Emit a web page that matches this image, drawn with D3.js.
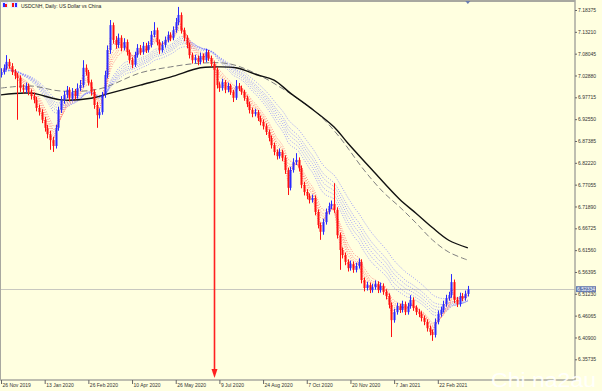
<!DOCTYPE html>
<html><head><meta charset="utf-8">
<script src="https://cdn.jsdelivr.net/npm/d3@7"></script>
<style>html,body{margin:0;padding:0;background:#FFFFE0;overflow:hidden}</style>
</head><body><svg id="c" width="602" height="391"></svg>
<script>
// ---------------- data ----------------
const opens = [
7.030,7.037,7.047,7.061,7.051,7.037,7.028,7.023,6.999,6.995,
7.004,6.990,6.980,6.971,6.952,6.942,6.924,6.905,6.890,6.876,
6.862,6.905,6.947,6.971,6.983,6.995,6.976,6.990,6.980,6.999,
7.006,7.047,7.037,7.013,6.990,6.959,6.935,6.942,6.983,7.030,
7.089,7.148,7.113,7.101,7.118,7.094,7.108,7.084,7.065,7.054,
7.077,7.094,7.084,7.099,7.089,7.101,7.125,7.136,7.108,7.089,
7.101,7.113,7.125,7.118,7.136,7.155,7.172,7.136,7.118,7.101,
7.077,7.065,7.070,7.061,7.075,7.065,7.084,7.070,7.056,7.042,
7.006,6.999,7.013,6.995,7.004,6.990,6.976,7.004,6.999,6.990,
6.976,6.961,6.947,6.938,6.942,6.928,6.919,6.909,6.895,6.881,
6.864,6.848,6.838,6.848,6.834,6.805,6.763,6.805,6.824,6.829,
6.810,6.770,6.753,6.744,6.734,6.739,6.706,6.675,6.659,6.682,
6.706,6.720,6.725,6.711,6.651,6.616,6.604,6.588,6.573,6.583,
6.569,6.578,6.588,6.545,6.526,6.533,6.521,6.528,6.536,6.521,
6.531,6.517,6.507,6.486,6.450,6.469,6.483,6.474,6.488,6.469,
6.483,6.498,6.479,6.469,6.465,6.455,6.446,6.431,6.422,6.415,
6.446,6.465,6.474,6.488,6.502,6.509,6.540,6.498,6.488,6.507,
6.502,6.512];
const closes = [
7.037,7.047,7.061,7.051,7.037,7.028,7.023,6.999,6.995,7.004,
6.990,6.980,6.971,6.952,6.942,6.924,6.905,6.890,6.876,6.862,
6.905,6.947,6.971,6.983,6.995,6.976,6.990,6.980,6.999,7.006,
7.047,7.037,7.013,6.990,6.959,6.935,6.942,6.983,7.030,7.089,
7.148,7.113,7.101,7.118,7.094,7.108,7.084,7.065,7.054,7.077,
7.094,7.084,7.099,7.089,7.101,7.125,7.136,7.108,7.089,7.101,
7.113,7.125,7.118,7.136,7.155,7.172,7.136,7.118,7.101,7.077,
7.065,7.070,7.061,7.075,7.065,7.084,7.070,7.056,7.042,7.006,
6.999,7.013,6.995,7.004,6.990,6.976,7.004,6.999,6.990,6.976,
6.961,6.947,6.938,6.942,6.928,6.919,6.909,6.895,6.881,6.864,
6.848,6.838,6.848,6.834,6.805,6.763,6.805,6.824,6.829,6.810,
6.770,6.753,6.744,6.734,6.739,6.706,6.675,6.659,6.682,6.706,
6.720,6.725,6.711,6.651,6.616,6.604,6.588,6.573,6.583,6.569,
6.578,6.588,6.545,6.526,6.533,6.521,6.528,6.536,6.521,6.531,
6.517,6.507,6.486,6.450,6.469,6.483,6.474,6.488,6.469,6.483,
6.498,6.479,6.469,6.465,6.455,6.446,6.431,6.422,6.415,6.446,
6.465,6.474,6.488,6.502,6.509,6.540,6.498,6.488,6.507,6.502,
6.512,6.523];
const highs = [
7.046,7.055,7.077,7.068,7.058,7.044,7.035,7.029,7.008,7.012,
7.010,6.996,6.988,6.978,6.960,6.949,6.931,6.912,6.898,6.884,
6.912,6.955,6.980,6.992,7.004,7.001,6.999,6.997,7.010,7.018,
7.065,7.055,7.042,7.019,6.996,6.966,6.951,6.990,7.040,7.100,
7.160,7.154,7.122,7.128,7.124,7.117,7.114,7.090,7.072,7.085,
7.103,7.101,7.108,7.106,7.110,7.134,7.155,7.142,7.114,7.110,
7.121,7.133,7.131,7.145,7.165,7.191,7.178,7.142,7.124,7.107,
7.083,7.078,7.076,7.083,7.081,7.092,7.089,7.076,7.062,7.048,
7.013,7.021,7.018,7.012,7.009,6.995,7.018,7.011,7.005,6.995,
6.981,6.967,6.953,6.950,6.947,6.934,6.925,6.915,6.901,6.887,
6.870,6.854,6.856,6.853,6.840,6.811,6.813,6.833,6.845,6.835,
6.816,6.777,6.760,6.750,6.747,6.745,6.712,6.681,6.690,6.714,
6.728,6.733,6.774,6.717,6.657,6.622,6.610,6.594,6.591,6.589,
6.586,6.596,6.594,6.551,6.541,6.539,6.536,6.544,6.542,6.539,
6.537,6.523,6.513,6.492,6.477,6.491,6.489,6.496,6.494,6.491,
6.509,6.504,6.485,6.476,6.471,6.461,6.452,6.437,6.428,6.454,
6.473,6.482,6.496,6.510,6.517,6.559,6.546,6.505,6.515,6.514,
6.520,6.531];
const lows = [
7.024,7.031,7.042,7.045,7.030,7.020,6.924,6.990,6.986,6.988,
6.982,6.972,6.963,6.944,6.934,6.916,6.896,6.880,6.853,6.848,
6.856,6.898,6.940,6.962,6.975,6.968,6.969,6.972,6.974,6.992,
7.000,7.029,7.005,6.981,6.950,6.905,6.927,6.936,6.976,7.022,
7.080,7.104,7.092,7.094,7.086,7.088,7.076,7.057,7.046,7.049,
7.071,7.077,7.078,7.082,7.083,7.095,7.119,7.100,7.080,7.083,
7.095,7.107,7.110,7.112,7.130,7.148,7.128,7.110,7.093,7.069,
7.057,7.058,7.053,7.055,7.058,7.060,7.063,7.049,7.035,6.998,
6.990,6.993,6.987,6.989,6.983,6.966,6.971,6.992,6.983,6.969,
6.954,6.939,6.930,6.932,6.921,6.911,6.901,6.888,6.873,6.856,
6.840,6.830,6.832,6.826,6.796,6.746,6.757,6.799,6.817,6.802,
6.762,6.745,6.736,6.726,6.728,6.698,6.667,6.640,6.652,6.676,
6.700,6.713,6.704,6.643,6.569,6.596,6.580,6.565,6.567,6.562,
6.563,6.572,6.537,6.518,6.520,6.514,6.515,6.522,6.514,6.515,
6.510,6.499,6.478,6.410,6.444,6.463,6.467,6.468,6.462,6.463,
6.477,6.472,6.462,6.457,6.447,6.438,6.423,6.414,6.401,6.409,
6.440,6.458,6.468,6.482,6.496,6.503,6.490,6.481,6.482,6.495,
6.496,6.506];

const tickIdx = [0,16,32,48,64,80,96,112,128,144,160];
const tickLabels = ["26 Nov 2019","13 Jan 2020","26 Feb 2020","10 Apr 2020","26 May 2020",
  "9 Jul 2020","24 Aug 2020","7 Oct 2020","20 Nov 2020","7 Jan 2021","22 Feb 2021"];
const priceTicks = [7.18375,7.13210,7.08045,7.02880,6.97715,6.92550,6.87385,6.82220,6.77055,
  6.71890,6.66725,6.61560,6.56395,6.51230,6.46065,6.40900,6.35735];

// long moving averages (bar index, value)
const maIdx    = [0,11,22,33,40,51,62,73,78,86,94,100,106,113,122,127,136,146,152,158,164,171];
const maSolid  = [6.983,6.987,6.971,6.975,6.987,7.006,7.025,7.047,7.049,7.047,7.030,7.018,6.987,6.954,6.907,6.869,6.805,6.736,6.703,6.669,6.639,6.621];
const maDashIdx = [0,11,22,36,51,62,73,84,95,105,110,117,124,133,140,146,152,158,164,171];
const maDashed  = [6.999,7.004,6.992,6.997,7.035,7.049,7.058,7.056,7.028,6.990,6.968,6.933,6.883,6.805,6.753,6.718,6.680,6.640,6.611,6.592];

// Guppy ribbons (periods expressed in bars of this chart)
const shortPeriods = [2,3,4.5,5.5,6.5,8];
const longPeriods  = [15.5,18,20.5,23,25.5,30.5];

const lastPrice = 6.52334;
const arrowIdx = 78;
const arrowPrice = 7.052;
const title = "USDCNH, Daily:  US Dollar vs China";
const watermark = "Chi na2au";

// ---------------- drawing ----------------
const svg = d3.select("#c");
const W = 602, H = 391, plotR = 575, plotB = 380, plotT = 2;
const N = closes.length;
const x = d3.scaleLinear().domain([0, N - 1]).range([1, 1 + 2.73 * (N - 1)]);
const y = d3.scaleLinear().domain([6.35735, 7.18375]).range([359.3, 10]);

svg.append("rect").attr("width", W).attr("height", H).attr("fill", "#FFFFE0");

svg.append("defs").append("clipPath").attr("id", "plot")
  .append("rect").attr("x", 1).attr("y", plotT).attr("width", plotR - 1).attr("height", plotB - plotT);
const g = svg.append("g").attr("clip-path", "url(#plot)");

// last price line
g.append("line").attr("x1", 0).attr("x2", plotR).attr("y1", Math.round(y(lastPrice)) + 0.5).attr("y2", Math.round(y(lastPrice)) + 0.5)
  .attr("stroke", "#c8c8c0").attr("stroke-width", 1);

// EMA ribbons
function ema(vals, n) { const a = 2 / (n + 1); let e = vals[0]; return vals.map((v, i) => (e = i === 0 ? v : a * v + (1 - a) * e)); }
const lineGen = d3.line().x((d, i) => x(i)).y(d => y(d));
longPeriods.forEach(p => {
  g.append("path").attr("d", lineGen(ema(closes, p))).attr("fill", "none")
    .attr("stroke", "#7f7fff").attr("stroke-width", 1).attr("stroke-dasharray", "1,1.5").attr("opacity", 0.75);
});
shortPeriods.forEach(p => {
  g.append("path").attr("d", lineGen(ema(closes, p))).attr("fill", "none")
    .attr("stroke", "#ff6a6a").attr("stroke-width", 1).attr("stroke-dasharray", "1,1.5").attr("opacity", 0.75);
});

// long MAs
const maLine = d3.line().curve(d3.curveCatmullRom).x(d => x(d[0])).y(d => y(d[1]));
g.append("path").attr("d", maLine(maDashIdx.map((d, i) => [d, maDashed[i]]))).attr("fill", "none")
  .attr("stroke", "#808080").attr("stroke-width", 1).attr("stroke-dasharray", "6,3");
g.append("path").attr("d", maLine(maIdx.map((d, i) => [d, maSolid[i]]))).attr("fill", "none")
  .attr("stroke", "#111").attr("stroke-width", 1.4);

// candles
const up = "#2a2aff", dn = "#ff1010";
const candles = g.append("g");
closes.forEach((c, i) => {
  const o = opens[i], col = c >= o ? up : dn, cx = Math.round(x(i)) + 0.5;
  candles.append("line").attr("x1", cx).attr("x2", cx).attr("y1", y(highs[i])).attr("y2", y(lows[i]))
    .attr("stroke", col).attr("stroke-width", 1);
  const top = y(Math.max(o, c)), bot = y(Math.min(o, c));
  candles.append("rect").attr("x", cx - 1).attr("width", 2).attr("y", top).attr("height", Math.max(1, bot - top)).attr("fill", col);
});

// red arrow
const ax = Math.round(x(arrowIdx)) + 0.5;
svg.append("line").attr("x1", ax).attr("x2", ax).attr("y1", y(arrowPrice)).attr("y2", plotB - 9)
  .attr("stroke", "#ff2020").attr("stroke-width", 1.6);
svg.append("path").attr("d", `M${ax - 3},${plotB - 11} L${ax + 3},${plotB - 11} L${ax},${plotB - 2} Z`).attr("fill", "#ff2020");

// frame
svg.append("line").attr("x1", 0).attr("x2", plotR).attr("y1", 1).attr("y2", 1).attr("stroke", "#a8a8a0").attr("stroke-width", 2);
svg.append("line").attr("x1", 0.5).attr("x2", 0.5).attr("y1", 0).attr("y2", plotB).attr("stroke", "#a8a8a0").attr("stroke-width", 1);
svg.append("line").attr("x1", plotR).attr("x2", plotR).attr("y1", 0).attr("y2", plotB + 1).attr("stroke", "#a8a8a0").attr("stroke-width", 1.5);
svg.append("line").attr("x1", 0).attr("x2", plotR).attr("y1", plotB).attr("y2", plotB).attr("stroke", "#a8a8a0").attr("stroke-width", 1.5);

// axes
const font = "'Liberation Sans', Arial, sans-serif";
const yAxis = svg.append("g").attr("transform", `translate(${plotR},0)`)
  .call(d3.axisRight(y).tickValues(priceTicks).tickSize(2).tickPadding(1).tickFormat(d3.format(".5f")));
yAxis.select(".domain").remove();
yAxis.selectAll("text").attr("font-family", font).attr("font-size", 5).attr("fill", "#333");
yAxis.selectAll("line").attr("stroke", "#666");

const xAxis = svg.append("g").attr("transform", `translate(0,${plotB})`)
  .call(d3.axisBottom(x).tickValues(tickIdx).tickSize(4).tickFormat((d, i) => tickLabels[i]));
xAxis.select(".domain").remove();
xAxis.selectAll("text").attr("font-family", font).attr("font-size", 5).attr("fill", "#333")
  .attr("text-anchor", "start").attr("dx", 1).attr("y", 3);
xAxis.selectAll("line").attr("stroke", "#666");

// last price tag
const ly = y(lastPrice);
svg.append("rect").attr("x", plotR + 1).attr("y", ly - 3).attr("width", 20).attr("height", 6).attr("fill", "#6a7db0");
svg.append("text").attr("x", plotR + 2).attr("y", ly + 1.8).attr("font-family", font).attr("font-size", 5)
  .attr("fill", "#fff").text(d3.format(".5f")(lastPrice));

// shift marker
svg.append("path").attr("d", `M${x(N - 1) - 2.5},1 L${x(N - 1) + 2.5},1 L${x(N - 1)},4 Z`).attr("fill", "#6a7db0");

// title + icons
svg.append("rect").attr("x", 2).attr("y", 2).attr("width", 6).attr("height", 6).attr("fill", "#e8e8ff");
svg.append("rect").attr("x", 3).attr("y", 3).attr("width", 2).attr("height", 4).attr("fill", "#2a2aff");
svg.append("rect").attr("x", 5).attr("y", 4).attr("width", 2).attr("height", 3).attr("fill", "#ff1010");
svg.append("rect").attr("x", 11).attr("y", 2).attr("width", 7).attr("height", 6).attr("fill", "#e8e8ff");
svg.append("rect").attr("x", 12).attr("y", 3).attr("width", 2).attr("height", 4).attr("fill", "#ff1010");
svg.append("rect").attr("x", 15).attr("y", 3).attr("width", 2).attr("height", 4).attr("fill", "#2a2aff");
svg.append("text").attr("x", 21).attr("y", 8).attr("font-family", font).attr("font-size", 5)
  .attr("fill", "#222").text(title);

// watermark
svg.append("text").attr("x", 491).attr("y", 387).attr("font-family", font).attr("font-size", 20)
  .attr("textLength", 105).attr("lengthAdjust", "spacingAndGlyphs")
  .attr("fill", "#ffffff").attr("opacity", 0.9).text(watermark);
</script></body></html>
